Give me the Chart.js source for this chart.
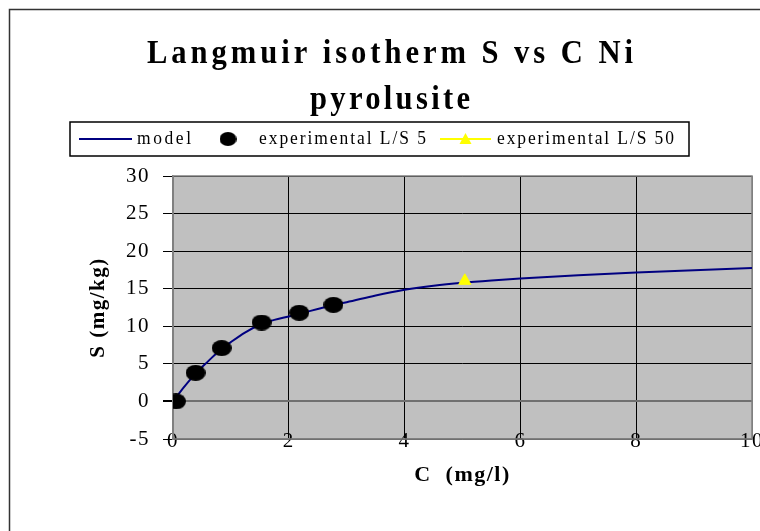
<!DOCTYPE html>
<html>
<head>
<meta charset="utf-8">
<script src="https://cdn.jsdelivr.net/npm/chart.js@4/dist/chart.umd.min.js"></script>
<style>
  body { margin: 0; background: #fff; }
  #wrap { width: 760px; height: 531px; }
</style>
</head>
<body>
<div id="wrap"><canvas id="chart" width="760" height="531"></canvas></div>
<script>
// values
const modelC = [0, 0.2, 0.4, 0.6, 0.8, 1.0, 1.25, 1.5, 1.75, 2.0, 2.25, 2.5, 2.75, 3.0, 3.5, 4.0, 4.5, 5.0, 5.5, 6.0, 7.0, 8.0, 9.0, 10.0];
const modelS = [0, 2.0, 3.8, 5.3, 6.75, 7.9, 9.2, 10.2, 10.85, 11.3, 11.8, 12.3, 12.8, 13.2, 14.1, 14.85, 15.4, 15.8, 16.1, 16.35, 16.8, 17.15, 17.45, 17.75];
const ls5C = [0.05, 0.39, 0.84, 1.53, 2.18, 2.77];
const ls5S = [0, 3.8, 7.1, 10.5, 11.8, 12.85];
const ls50C = [5.04];
const ls50S = [16.05];
const titleLines = ['Langmuir isotherm S vs C Ni', 'pyrolusite'];
const legendLabels = ['model', 'experimental L/S 5', 'experimental L/S 50'];
const xTitle = 'C  (mg/l)';
const yTitle = 'S (mg/kg)';

const SERIF = '"Liberation Serif", "Times New Roman", serif';

function pairs(xs, ys) {
  return xs.map((x, i) => ({ x: x, y: ys[i] }));
}

function ellipseImage(w, h, color) {
  const c = document.createElement('canvas');
  c.width = w;
  c.height = h;
  const g = c.getContext('2d');
  g.fillStyle = color;
  g.beginPath();
  g.ellipse(w / 2, h / 2, w / 2, h / 2, 0, 0, Math.PI * 2);
  g.fill();
  return c;
}

// excel-like stretched text: condensed glyphs spread over a given width
function spacedText(ctx, text, x, y, width, font, sx) {
  ctx.save();
  ctx.font = font;
  ctx.letterSpacing = '0px';
  ctx.textAlign = 'left';
  ctx.textBaseline = 'alphabetic';
  ctx.fillStyle = '#000';
  const natural = ctx.measureText(text).width * sx;
  const gap = (width - natural) / (text.length - 1);
  ctx.translate(x, y);
  ctx.scale(sx, 1);
  ctx.letterSpacing = (gap / sx) + 'px';
  ctx.fillText(text, 0, 0);
  ctx.restore();
}

const dot = ellipseImage(20, 16, '#000');
const legendDot = ellipseImage(17, 14, '#000');

const frame = {
  id: 'frame',
  beforeDraw(chart) {
    const ctx = chart.ctx;
    const a = chart.chartArea;
    ctx.save();
    ctx.fillStyle = '#fff';
    ctx.fillRect(0, 0, chart.width, chart.height);
    ctx.strokeStyle = '#333';
    ctx.lineWidth = 1.5;
    ctx.strokeRect(9.5, 9.5, chart.width + 20, chart.height + 20);
    ctx.fillStyle = '#c0c0c0';
    ctx.fillRect(a.left, a.top, a.right - a.left, a.bottom - a.top);
    ctx.restore();
    ctx.letterSpacing = '1.5px';
  },
  beforeDatasetsDraw(chart) {
    const ctx = chart.ctx;
    const a = chart.chartArea;
    ctx.save();
    ctx.strokeStyle = '#808080';
    ctx.lineWidth = 1.5;
    ctx.strokeRect(a.left, a.top, a.right - a.left, a.bottom - a.top);
    ctx.restore();
  },
  afterDraw(chart) {
    const ctx = chart.ctx;
    ctx.letterSpacing = '0px';
    // title
    const tf = 'bold 34px ' + SERIF;
    spacedText(ctx, titleLines[0], 147, 63, 486, tf, 0.9);
    spacedText(ctx, titleLines[1], 310, 109, 160, tf, 0.9);

    // legend box
    ctx.save();
    ctx.fillStyle = '#fff';
    ctx.fillRect(70, 122, 619, 34);
    ctx.strokeStyle = '#000';
    ctx.lineWidth = 1.5;
    ctx.strokeRect(70, 122, 619, 34);
    const cy = 139;
    const model = chart.data.datasets[2];
    ctx.strokeStyle = model.borderColor;
    ctx.lineWidth = 2;
    ctx.beginPath();
    ctx.moveTo(79, cy);
    ctx.lineTo(132, cy);
    ctx.stroke();
    ctx.drawImage(legendDot, 228 - 8.5, cy - 7);
    const tri = chart.data.datasets[1];
    ctx.strokeStyle = tri.borderColor;
    ctx.beginPath();
    ctx.moveTo(440, cy);
    ctx.lineTo(491, cy);
    ctx.stroke();
    ctx.fillStyle = tri.backgroundColor;
    ctx.beginPath();
    ctx.moveTo(465.5, cy - 6);
    ctx.lineTo(471.5, cy + 5);
    ctx.lineTo(459.5, cy + 5);
    ctx.closePath();
    ctx.fill();
    ctx.restore();

    const lf = '19px ' + SERIF;
    spacedText(ctx, legendLabels[0], 137, 144, 54, lf, 0.92);
    spacedText(ctx, legendLabels[1], 259, 144, 167, lf, 0.92);
    spacedText(ctx, legendLabels[2], 497, 144, 177, lf, 0.92);
  }
};

new Chart(document.getElementById('chart'), {
  type: 'scatter',
  data: {
    datasets: [
      {
        label: legendLabels[1],
        data: pairs(ls5C, ls5S),
        pointStyle: dot,
        order: 1
      },
      {
        label: legendLabels[2],
        data: pairs(ls50C, ls50S),
        pointStyle: 'triangle',
        pointRadius: 7,
        backgroundColor: '#ffff00',
        borderColor: '#ffff00',
        order: 2
      },
      {
        label: legendLabels[0],
        data: pairs(modelC, modelS),
        showLine: true,
        borderColor: '#000080',
        borderWidth: 2,
        pointRadius: 0,
        cubicInterpolationMode: 'monotone',
        order: 3
      }
    ]
  },
  options: {
    responsive: false,
    animation: false,
    events: [],
    layout: { padding: { top: 176, right: 8, left: 0, bottom: 0 } },
    plugins: {
      legend: { display: false },
      title: { display: false },
      tooltip: { enabled: false }
    },
    scales: {
      x: {
        type: 'linear',
        min: 0,
        max: 10,
        ticks: {
          stepSize: 2,
          padding: -10,
          color: '#000',
          font: { family: SERIF, size: 21 }
        },
        grid: {
          drawTicks: false,
          color: (c) => (c.tick && (c.tick.value === 0 || c.tick.value === 10)) ? '#808080' : '#000'
        },
        border: { color: '#808080', width: 1.5 },
        title: {
          display: true,
          text: xTitle,
          color: '#000',
          font: { family: SERIF, size: 22, weight: 'bold' },
          padding: { top: 0, bottom: 42 }
        },
        afterFit(scale) {
          scale.height = 92;
          // labels sit across the plot's lower edge, so don't clip them to the axis box
          scale._computeLabelArea = () => undefined;
        }
      },
      y: {
        type: 'linear',
        min: -5,
        max: 30,
        ticks: {
          stepSize: 5,
          padding: 13,
          color: '#000',
          font: { family: SERIF, size: 21 }
        },
        grid: {
          tickLength: 10,
          color: (c) => (c.tick && c.tick.value === 0) ? '#707070' : '#000',
          lineWidth: (c) => (c.tick && c.tick.value === 0) ? 2 : 1,
          tickColor: '#000'
        },
        border: { color: '#808080', width: 1.5 },
        title: {
          display: true,
          text: yTitle,
          color: '#000',
          font: { family: SERIF, size: 21, weight: 'bold' },
          padding: { top: 86, bottom: 0 }
        },
        afterFit(scale) { scale.width = 173; }
      }
    }
  },
  plugins: [frame]
});
</script>
</body>
</html>
